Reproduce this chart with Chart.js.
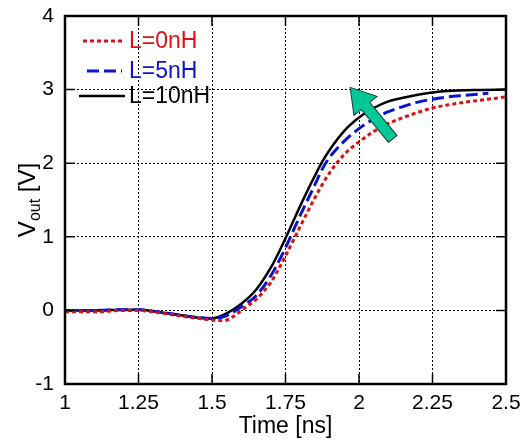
<!DOCTYPE html>
<html>
<head>
<meta charset="utf-8">
<script src="https://cdn.jsdelivr.net/npm/chart.js@4"></script>
<style>
  html, body { margin: 0; padding: 0; background: #fff; }
  #wrap { width: 524px; height: 441px; }
</style>
</head>
<body>
<div id="wrap"><canvas id="c" width="524" height="441"></canvas></div>
<script>
// Vout transients for three inductor values
const tL0 = [1.0, 1.1, 1.2, 1.25, 1.3, 1.4, 1.5, 1.54, 1.57, 1.6, 1.65, 1.7, 1.725, 1.75, 1.775, 1.8, 1.825, 1.85, 1.875, 1.9, 1.95, 2.0, 2.05, 2.1, 2.15, 2.2, 2.25, 2.3, 2.4, 2.5]
const vL0 = [-0.02, -0.02, 0.0, 0.0, -0.02, -0.08, -0.13, -0.14, -0.09, 0.0, 0.15, 0.38, 0.55, 0.74, 0.94, 1.14, 1.34, 1.53, 1.71, 1.87, 2.12, 2.29, 2.43, 2.54, 2.62, 2.69, 2.75, 2.79, 2.85, 2.9]

const tL5 = [1.0, 1.1, 1.2, 1.25, 1.3, 1.4, 1.5, 1.55, 1.6, 1.65, 1.7, 1.725, 1.75, 1.775, 1.8, 1.825, 1.85, 1.875, 1.9, 1.95, 2.0, 2.05, 2.1, 2.15, 2.2, 2.25, 2.3, 2.35, 2.44]
const vL5 = [0.0, 0.0, 0.01, 0.01, -0.01, -0.07, -0.11, -0.07, 0.05, 0.2, 0.47, 0.65, 0.85, 1.07, 1.29, 1.5, 1.71, 1.92, 2.08, 2.3, 2.47, 2.6, 2.7, 2.77, 2.83, 2.87, 2.9, 2.92, 2.95]

const tL10 = [1.0, 1.1, 1.2, 1.25, 1.3, 1.4, 1.5, 1.55, 1.6, 1.65, 1.7, 1.725, 1.75, 1.775, 1.8, 1.825, 1.85, 1.875, 1.9, 1.95, 2.0, 2.05, 2.1, 2.15, 2.2, 2.25, 2.3, 2.4, 2.5]
const vL10 = [0.0, 0.0, 0.01, 0.01, -0.01, -0.07, -0.11, -0.04, 0.09, 0.28, 0.58, 0.77, 0.98, 1.2, 1.42, 1.63, 1.83, 2.02, 2.18, 2.44, 2.62, 2.75, 2.84, 2.89, 2.93, 2.96, 2.98, 2.995, 3.0]

const seriesNames = ['L=0nH', 'L=5nH', 'L=10nH']
const xTickLabels = ['1', '1.25', '1.5', '1.75', '2', '2.25', '2.5']
const yTickLabels = ['-1', '0', '1', '2', '3', '4']

// arrow showing the trend as L grows (data coords)
const arrowTail = { x: 2.115, y: 2.33 }
const arrowTip = { x: 1.97, y: 3.03 }

const FONT = '"Liberation Sans", Arial, sans-serif'

function pts(ts, vs) {
  return ts.map((t, i) => ({ x: t, y: vs[i] }))
}

// frame, inner ticks, y title, legend and arrow
const decor = {
  id: 'decor',
  afterDatasetsDraw(chart) {
    const { ctx, chartArea: a, scales: { x, y } } = chart
    ctx.save()

    // arrow
    const x0 = x.getPixelForValue(arrowTail.x), y0 = y.getPixelForValue(arrowTail.y)
    const x1 = x.getPixelForValue(arrowTip.x), y1 = y.getPixelForValue(arrowTip.y)
    const ang = Math.atan2(y1 - y0, x1 - x0)
    const len = Math.hypot(x1 - x0, y1 - y0)
    ctx.translate(x0, y0)
    ctx.rotate(ang)
    const headL = 24, headW = 15, shaftW = 5.5
    ctx.beginPath()
    ctx.moveTo(0, -shaftW)
    ctx.lineTo(len - headL, -shaftW)
    ctx.lineTo(len - headL, -headW)
    ctx.lineTo(len, 0)
    ctx.lineTo(len - headL, headW)
    ctx.lineTo(len - headL, shaftW)
    ctx.lineTo(0, shaftW)
    ctx.closePath()
    ctx.fillStyle = '#00c896'
    ctx.fill()
    ctx.strokeStyle = '#1a3a30'
    ctx.lineWidth = 1
    ctx.stroke()
    ctx.setTransform(1, 0, 0, 1, 0, 0)

    // legend
    const rows = [
      { y: a.top + 25, x0: a.left + 18, x1: a.left + 57 },
      { y: a.top + 55, x0: a.left + 22, x1: a.left + 57 },
      { y: a.top + 80, x0: a.left + 14, x1: a.left + 60 }
    ]
    chart.data.datasets.forEach((ds, i) => {
      const r = rows[i]
      ctx.beginPath()
      ctx.setLineDash(ds.borderDash || [])
      ctx.strokeStyle = ds.borderColor
      ctx.lineWidth = ds.borderWidth
      ctx.moveTo(r.x0, r.y)
      ctx.lineTo(r.x1, r.y)
      ctx.stroke()
      ctx.setLineDash([])
      ctx.fillStyle = ds.borderColor
      ctx.font = '23px ' + FONT
      ctx.textAlign = 'left'
      ctx.textBaseline = 'middle'
      ctx.fillText(ds.label, a.left + 64, r.y + 1)
    })

    // inner tick marks
    ctx.strokeStyle = '#000'
    ctx.lineWidth = 1.5
    ctx.beginPath()
    x.ticks.forEach(t => {
      const px = x.getPixelForValue(t.value)
      ctx.moveTo(px, a.bottom); ctx.lineTo(px, a.bottom - 10)
      ctx.moveTo(px, a.top); ctx.lineTo(px, a.top + 10)
    })
    y.ticks.forEach(t => {
      const py = y.getPixelForValue(t.value)
      ctx.moveTo(a.left, py); ctx.lineTo(a.left + 10, py)
      ctx.moveTo(a.right, py); ctx.lineTo(a.right - 10, py)
    })
    ctx.stroke()

    // frame
    ctx.lineWidth = 2.5
    ctx.strokeRect(a.left, a.top, a.right - a.left, a.bottom - a.top)

    // y title: V_out [V]
    ctx.translate(27, (a.top + a.bottom) / 2)
    ctx.rotate(-Math.PI / 2)
    ctx.fillStyle = '#000'
    ctx.textBaseline = 'alphabetic'
    ctx.textAlign = 'left'
    const big = '24px ' + FONT, small = '16px ' + FONT
    ctx.font = big
    const wV = ctx.measureText('V').width
    const wB = ctx.measureText(' [V]').width
    ctx.font = small
    const wS = ctx.measureText('out').width
    let cx = -(wV + wS + wB) / 2
    ctx.font = big
    ctx.fillText('V', cx, 8)
    cx += wV
    ctx.font = small
    ctx.fillText('out', cx, 13)
    cx += wS
    ctx.font = big
    ctx.fillText(' [V]', cx, 8)

    ctx.restore()
  }
}

new Chart(document.getElementById('c'), {
  type: 'line',
  data: {
    datasets: [
      {
        label: seriesNames[0],
        data: pts(tL0, vL0),
        borderColor: '#e01010',
        borderWidth: 3,
        borderDash: [4, 3]
      },
      {
        label: seriesNames[1],
        data: pts(tL5, vL5),
        borderColor: '#0a14d0',
        borderWidth: 3,
        borderDash: [12, 5]
      },
      {
        label: seriesNames[2],
        data: pts(tL10, vL10),
        borderColor: '#000000',
        borderWidth: 2.5
      }
    ]
  },
  options: {
    responsive: false,
    animation: false,
    devicePixelRatio: 1,
    layout: { padding: { top: 16, right: 18, left: 0, bottom: 0 } },
    elements: {
      point: { radius: 0 },
      line: { cubicInterpolationMode: 'monotone', fill: false }
    },
    plugins: {
      legend: { display: false },
      tooltip: { enabled: false }
    },
    scales: {
      x: {
        type: 'linear',
        min: 1,
        max: 2.5,
        afterFit: s => { s.height = 57; s.paddingLeft = 0; s.paddingRight = 0 },
        afterBuildTicks: s => { s.ticks = xTickLabels.map(v => ({ value: Number(v) })) },
        grid: { color: '#000', lineWidth: 1, drawTicks: false },
        border: { display: false, dash: [2, 2] },
        ticks: {
          padding: 7,
          color: '#000',
          font: { family: FONT, size: 21 },
          maxRotation: 0,
          callback: (v, i) => xTickLabels[i]
        },
        title: {
          display: true,
          text: 'Time [ns]',
          color: '#000',
          font: { family: FONT, size: 23 },
          padding: { top: 0, bottom: 1 }
        }
      },
      y: {
        type: 'linear',
        min: -1,
        max: 4,
        afterFit: s => { s.width = 65; s.paddingTop = 0; s.paddingBottom = 0 },
        afterBuildTicks: s => { s.ticks = yTickLabels.map(v => ({ value: Number(v) })) },
        grid: { color: '#000', lineWidth: 1, drawTicks: false },
        border: { display: false, dash: [2, 2] },
        ticks: {
          padding: 11,
          color: '#000',
          font: { family: FONT, size: 21 },
          callback: (v, i) => yTickLabels[i]
        }
      }
    }
  },
  plugins: [decor]
})
</script>
</body>
</html>
